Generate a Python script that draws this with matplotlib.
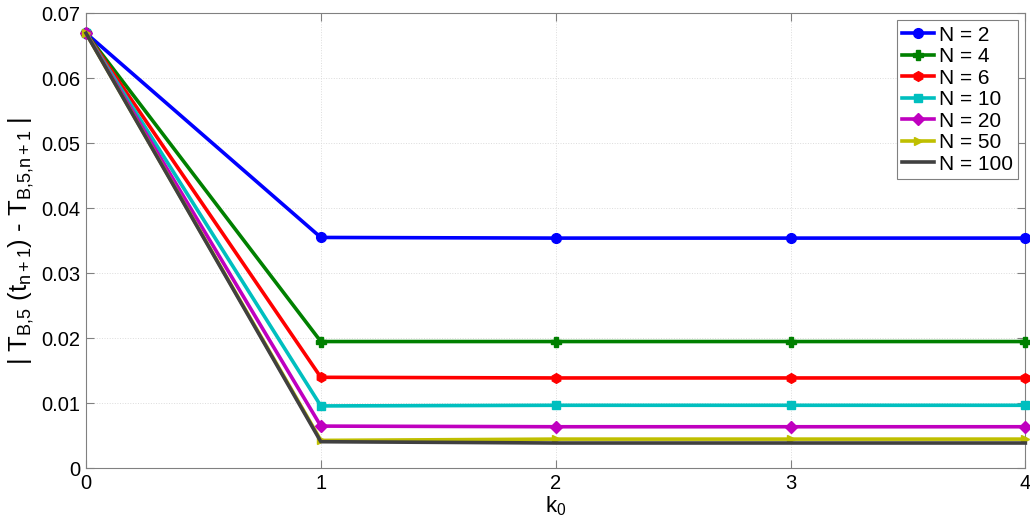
import matplotlib.pyplot as plt

plt.rcParams['font.family'] = ['Liberation Sans', 'DejaVu Sans']
plt.rcParams['mathtext.fontset'] = 'custom'
plt.rcParams['mathtext.rm'] = 'Liberation Sans'
plt.rcParams['mathtext.it'] = 'Liberation Sans'

k0 = [0, 1, 2, 3, 4]
labels = ['N = 2', 'N = 4', 'N = 6', 'N = 10', 'N = 20', 'N = 50', 'N = 100']
err_n2 = [0.0669, 0.0355, 0.0354, 0.0354, 0.0354]
err_n4 = [0.0669, 0.0195, 0.0195, 0.0195, 0.0195]
err_n6 = [0.0669, 0.0140, 0.0139, 0.0139, 0.0139]
err_n10 = [0.0669, 0.0096, 0.0097, 0.0097, 0.0097]
err_n20 = [0.0669, 0.0065, 0.0064, 0.0064, 0.0064]
err_n50 = [0.0669, 0.0043, 0.0045, 0.0045, 0.0045]
err_n100 = [0.0669, 0.0041, 0.0039, 0.0039, 0.0039]

series = [err_n2, err_n4, err_n6, err_n10, err_n20, err_n50, err_n100]
colors = ['#0000ff', '#008000', '#ff0000', '#00bfbf', '#bf00bf', '#bfbf00', '#404040']
markers = ['o', 'P', 'h', 's', 'D', '>', None]
msizes = [7, 7, 7, 6, 6, 6, 0]

fig = plt.figure(figsize=(10.3, 5.21), dpi=100)
ax = fig.add_axes([0.0835, 0.101, 0.912, 0.874])

for ys, c, m, ms, lab in zip(series, colors, markers, msizes, labels):
    ax.plot(k0, ys, color=c, marker=m, markersize=ms, linewidth=2.6,
            label=lab, clip_on=False, zorder=3)

ax.set_xlim(0, 4)
ax.set_ylim(0, 0.07)
ax.set_xticks([0, 1, 2, 3, 4])
ax.set_yticks([0, 0.01, 0.02, 0.03, 0.04, 0.05, 0.06, 0.07])
ax.set_yticklabels(['0', '0.01', '0.02', '0.03', '0.04', '0.05', '0.06', '0.07'])
ax.grid(True, linestyle=':', color='#dcdcdc', linewidth=0.7)
ax.tick_params(direction='in', top=True, right=True, labelsize=14.5, length=6,
               color='#808080', pad=4)
for s in ax.spines.values():
    s.set_color('#808080')

ax.set_xlabel(r'k$_{0}$', fontsize=16, labelpad=1)
ax.set_ylabel(r'| T$_{\mathrm{B{,}5}}$ (t$_{\mathrm{n+1}}$) - T$_{\mathrm{B{,}5{,}n+1}}$ |',
              fontsize=18.5, labelpad=4)

leg = ax.legend(loc='upper right', fontsize=15, fancybox=False, framealpha=1,
                edgecolor='#808080', handlelength=1.5, handletextpad=0.25,
                borderpad=0.25, labelspacing=0.12, borderaxespad=0.35)
leg.get_frame().set_linewidth(0.8)

fig.savefig('out.png', dpi=100)
